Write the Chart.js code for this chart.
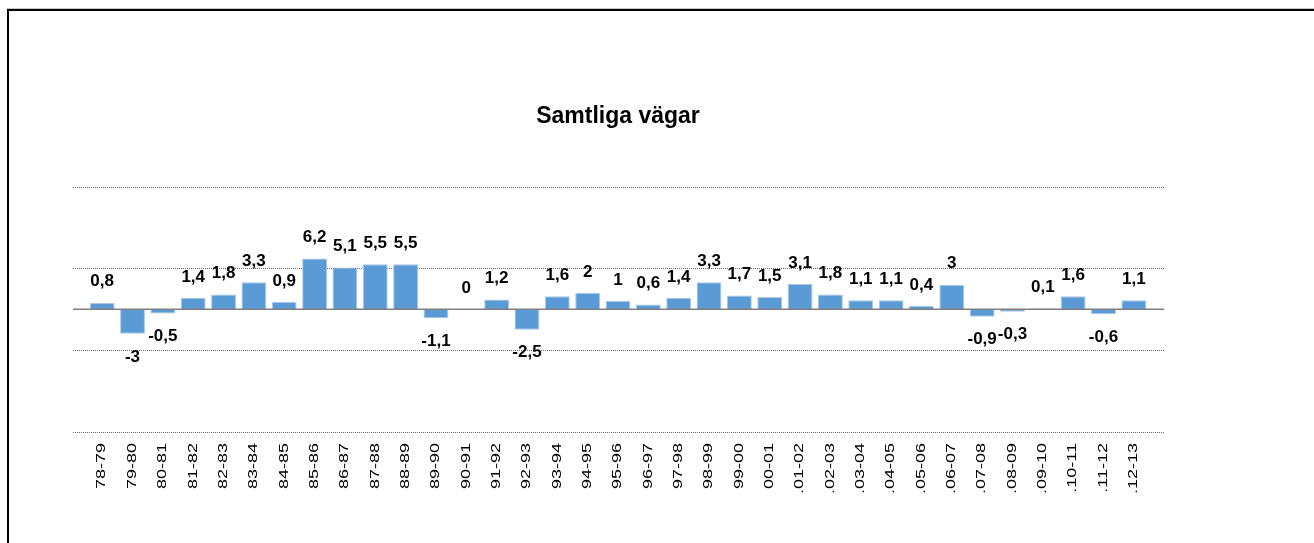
<!DOCTYPE html>
<html lang="sv">
<head>
<meta charset="utf-8">
<title>Samtliga vägar</title>
<script src="https://cdn.jsdelivr.net/npm/chart.js@4"></script>
<style>
  html, body { margin: 0; padding: 0; background: #fff; }
  body { width: 1314px; height: 543px; position: relative; overflow: hidden; }
  #chart { position: absolute; left: 0; top: 0; }
  #frame {
    position: absolute; left: 7px; top: 9px; width: 1400px; height: 600px;
    border-top: 2px solid #000; border-left: 2px solid #000;
    box-shadow: 0 -1px 0 #c8c8c8; pointer-events: none;
  }
</style>
</head>
<body>
<canvas id="chart" width="1314" height="543"></canvas>
<div id="frame"></div>
<script>
const categories = [
  '78-79', '79-80', '80-81', '81-82', '82-83', '83-84', '84-85', '85-86', '86-87', '87-88',
  '88-89', '89-90', '90-91', '91-92', '92-93', '93-94', '94-95', '95-96', '96-97', '97-98',
  '98-99', '99-00', '00-01', '.01-02', '.02-03', '.03-04', '.04-05', '.05-06', '.06-07', '.07-08',
  '.08-09', '.09-10', '.10-11', '.11-12', '.12-13',
];
const values = [
  0.8, -3, -0.5, 1.4, 1.8, 3.3, 0.9, 6.2, 5.1, 5.5,
  5.5, -1.1, 0, 1.2, -2.5, 1.6, 2, 1, 0.6, 1.4,
  3.3, 1.7, 1.5, 3.1, 1.8, 1.1, 1.1, 0.4, 3, -0.9,
  -0.3, 0.1, 1.6, -0.6, 1.1,
];
const yGridValues = [-15, -5, 5, 15];
const titleText = 'Samtliga vägar';

const fontFamily = 'Arial, "Liberation Sans", sans-serif';

// dotted gridlines run a little past the bars, like the sheet's plot area
const sheetDecor = {
  id: 'sheetDecor',
  beforeDatasetsDraw(chart) {
    const { ctx, chartArea, scales } = chart;
    const left = chartArea.left - 14;
    const right = chartArea.right + 15;
    ctx.save();
    ctx.strokeStyle = '#6a6a6a';
    ctx.lineWidth = 1;
    ctx.setLineDash([1, 1]);
    yGridValues.forEach((v) => {
      const y = Math.round(scales.y.getPixelForValue(v)) + 0.5;
      ctx.beginPath();
      ctx.moveTo(left, y);
      ctx.lineTo(right, y);
      ctx.stroke();
    });
    ctx.restore();
  },
  afterDatasetsDraw(chart) {
    const { ctx, chartArea, scales } = chart;
    ctx.save();
    // zero line
    const y0 = scales.y.getPixelForValue(0);
    ctx.strokeStyle = '#808080';
    ctx.lineWidth = 1.5;
    ctx.beginPath();
    ctx.moveTo(chartArea.left - 14, y0);
    ctx.lineTo(chartArea.right + 15, y0);
    ctx.stroke();

    // value labels
    ctx.fillStyle = '#000';
    ctx.font = `bold 17px ${fontFamily}`;
    ctx.textAlign = 'center';
    ctx.textBaseline = 'middle';
    const meta = chart.getDatasetMeta(0);
    meta.data.forEach((bar, i) => {
      const v = values[i];
      const y = v < 0 ? bar.y + 23 : bar.y - 21;
      ctx.fillText(String(v).replace('.', ','), bar.x, y);
    });

    // category labels, vertical and drawn long like the sheet export
    ctx.font = `12px ${fontFamily}`;
    ctx.textAlign = 'right';
    const top = chartArea.bottom + 11;
    categories.forEach((label, i) => {
      ctx.save();
      ctx.translate(scales.x.getPixelForTick(i), top);
      ctx.rotate(-Math.PI / 2);
      ctx.scale(1.5, 1);
      ctx.fillText(label, 0, 0);
      ctx.restore();
    });
    ctx.restore();
  },
};

new Chart(document.getElementById('chart'), {
  type: 'bar',
  data: {
    labels: categories,
    datasets: [{
      data: values,
      backgroundColor: '#5B9BD5',
      borderColor: '#A9C9EA',
      borderWidth: 1,
      barPercentage: 0.82,
      categoryPercentage: 1,
    }],
  },
  options: {
    responsive: false,
    animation: false,
    layout: { padding: { left: 87, right: 165, top: 0, bottom: 0 } },
    plugins: {
      legend: { display: false },
      tooltip: { enabled: false },
      title: {
        display: true,
        text: titleText,
        color: '#000',
        font: { family: fontFamily, size: 23, weight: 'bold' },
        padding: { top: 103, bottom: 56 },
      },
    },
    scales: {
      x: {
        offset: true,
        grid: { display: false, drawTicks: false },
        border: { display: false },
        ticks: { display: false, autoSkip: false },
        afterFit(scale) { scale.height = 111; },
      },
      y: {
        display: false,
        min: -15,
        max: 15,
      },
    },
  },
  plugins: [sheetDecor],
});
</script>
</body>
</html>
